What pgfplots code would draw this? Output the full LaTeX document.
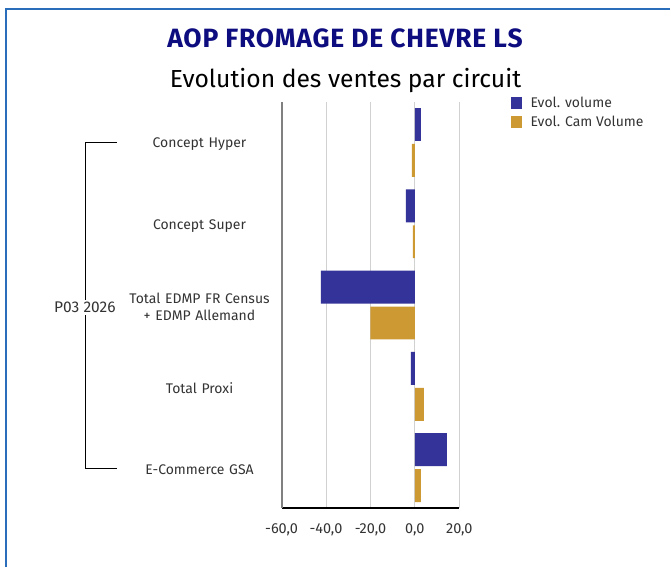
\documentclass[border=0pt]{standalone}
\usepackage{fontspec}
\setmainfont{Fira Sans}
\usepackage{pgfplots}
\pgfplotsset{compat=1.18}

\definecolor{volblue}{HTML}{333399}
\definecolor{camgold}{HTML}{CC9933}
\definecolor{titlenavy}{HTML}{0D0D80}
\definecolor{framecol}{HTML}{2A6EBB}
\definecolor{txtgray}{HTML}{333333}

% Evol. volume / Evol. Cam Volume by circuit (0 = Concept Hyper ... 4 = E-Commerce GSA)
\begin{document}
\begin{tikzpicture}[x=1bp,y=1bp]
\path (0,0) rectangle (671,568);
\draw[framecol, line width=2bp] (6.5,0) -- (6.5,558.5) -- (671,558.5);

\node[font=\fontsize{26.5bp}{30bp}\selectfont\bfseries\addfontfeatures{LetterSpace=3}, text=titlenavy] at (345.5,530) {AOP FROMAGE DE CHEVRE LS};
\node[font=\fontsize{24.7bp}{28bp}\selectfont, text=black] at (346,487) {Evolution des ventes par circuit};

\begin{axis}[
  at={(282bp,59bp)}, anchor=south west,
  scale only axis, width=178bp, height=407bp,
  xbar, bar width=33bp,
  xmin=-60, xmax=20,
  ymin=-0.5, ymax=4.5, y dir=reverse,
  xtick={-60,-40,-20,0,20},
  ytick={0,1,2,3,4},
  yticklabels={Concept Hyper, Concept Super, {Total EDMP FR Census\\+ EDMP Allemand}, Total Proxi, E-Commerce GSA},
  major tick length=0pt,
  axis x line*=bottom, axis y line*=left,
  x axis line style={black, line width=1.5bp, -},
  y axis line style={gray, line width=2bp, -},
  xmajorgrids, grid style={line width=1bp, color=black!18},
  /pgf/number format/.cd, fixed, fixed zerofill, precision=1, use comma, assume math mode=true,
  /pgfplots/.cd,
  xticklabel style={font=\fontsize{14.5bp}{17bp}\selectfont, text=txtgray, yshift=-12bp},
  yticklabel style={font=\fontsize{14bp}{17bp}\selectfont, text=txtgray, text width=160bp, align=center, inner sep=0pt, anchor=east, xshift=-2bp, yshift=-2bp},
  legend style={at={(1.287,1.014)}, anchor=north west, draw=none, fill=none,
    font=\fontsize{14bp}{16bp}\selectfont, text=txtgray, inner sep=0pt, row sep=5bp,
    nodes={inner sep=1bp}, /tikz/every odd column/.append style={column sep=8bp}},
  legend cell align=left,
  legend image code/.code={\fill[#1, draw=none] (0bp,-6bp) rectangle (11bp,6bp);},
]
\addplot[fill=volblue, draw=none, bar shift=18bp] coordinates {
  (2.7,0) (-4.0,1) (-42.3,2) (-1.8,3) (14.4,4)
};
\addlegendentry{Evol. volume}
\addplot[fill=camgold, draw=none, bar shift=-18bp] coordinates {
  (-1.4,0) (-0.9,1) (-20.0,2) (4.0,3) (2.7,4)
};
\addlegendentry{Evol. Cam Volume}
\end{axis}

\draw[black, line width=1bp] (117,425) -- (86,425) -- (86,99) -- (117,99);
\node[fill=white, inner sep=2bp, font=\fontsize{15.5bp}{18bp}\selectfont, text=txtgray] at (85,260) {P03 2026};
\end{tikzpicture}
\end{document}
